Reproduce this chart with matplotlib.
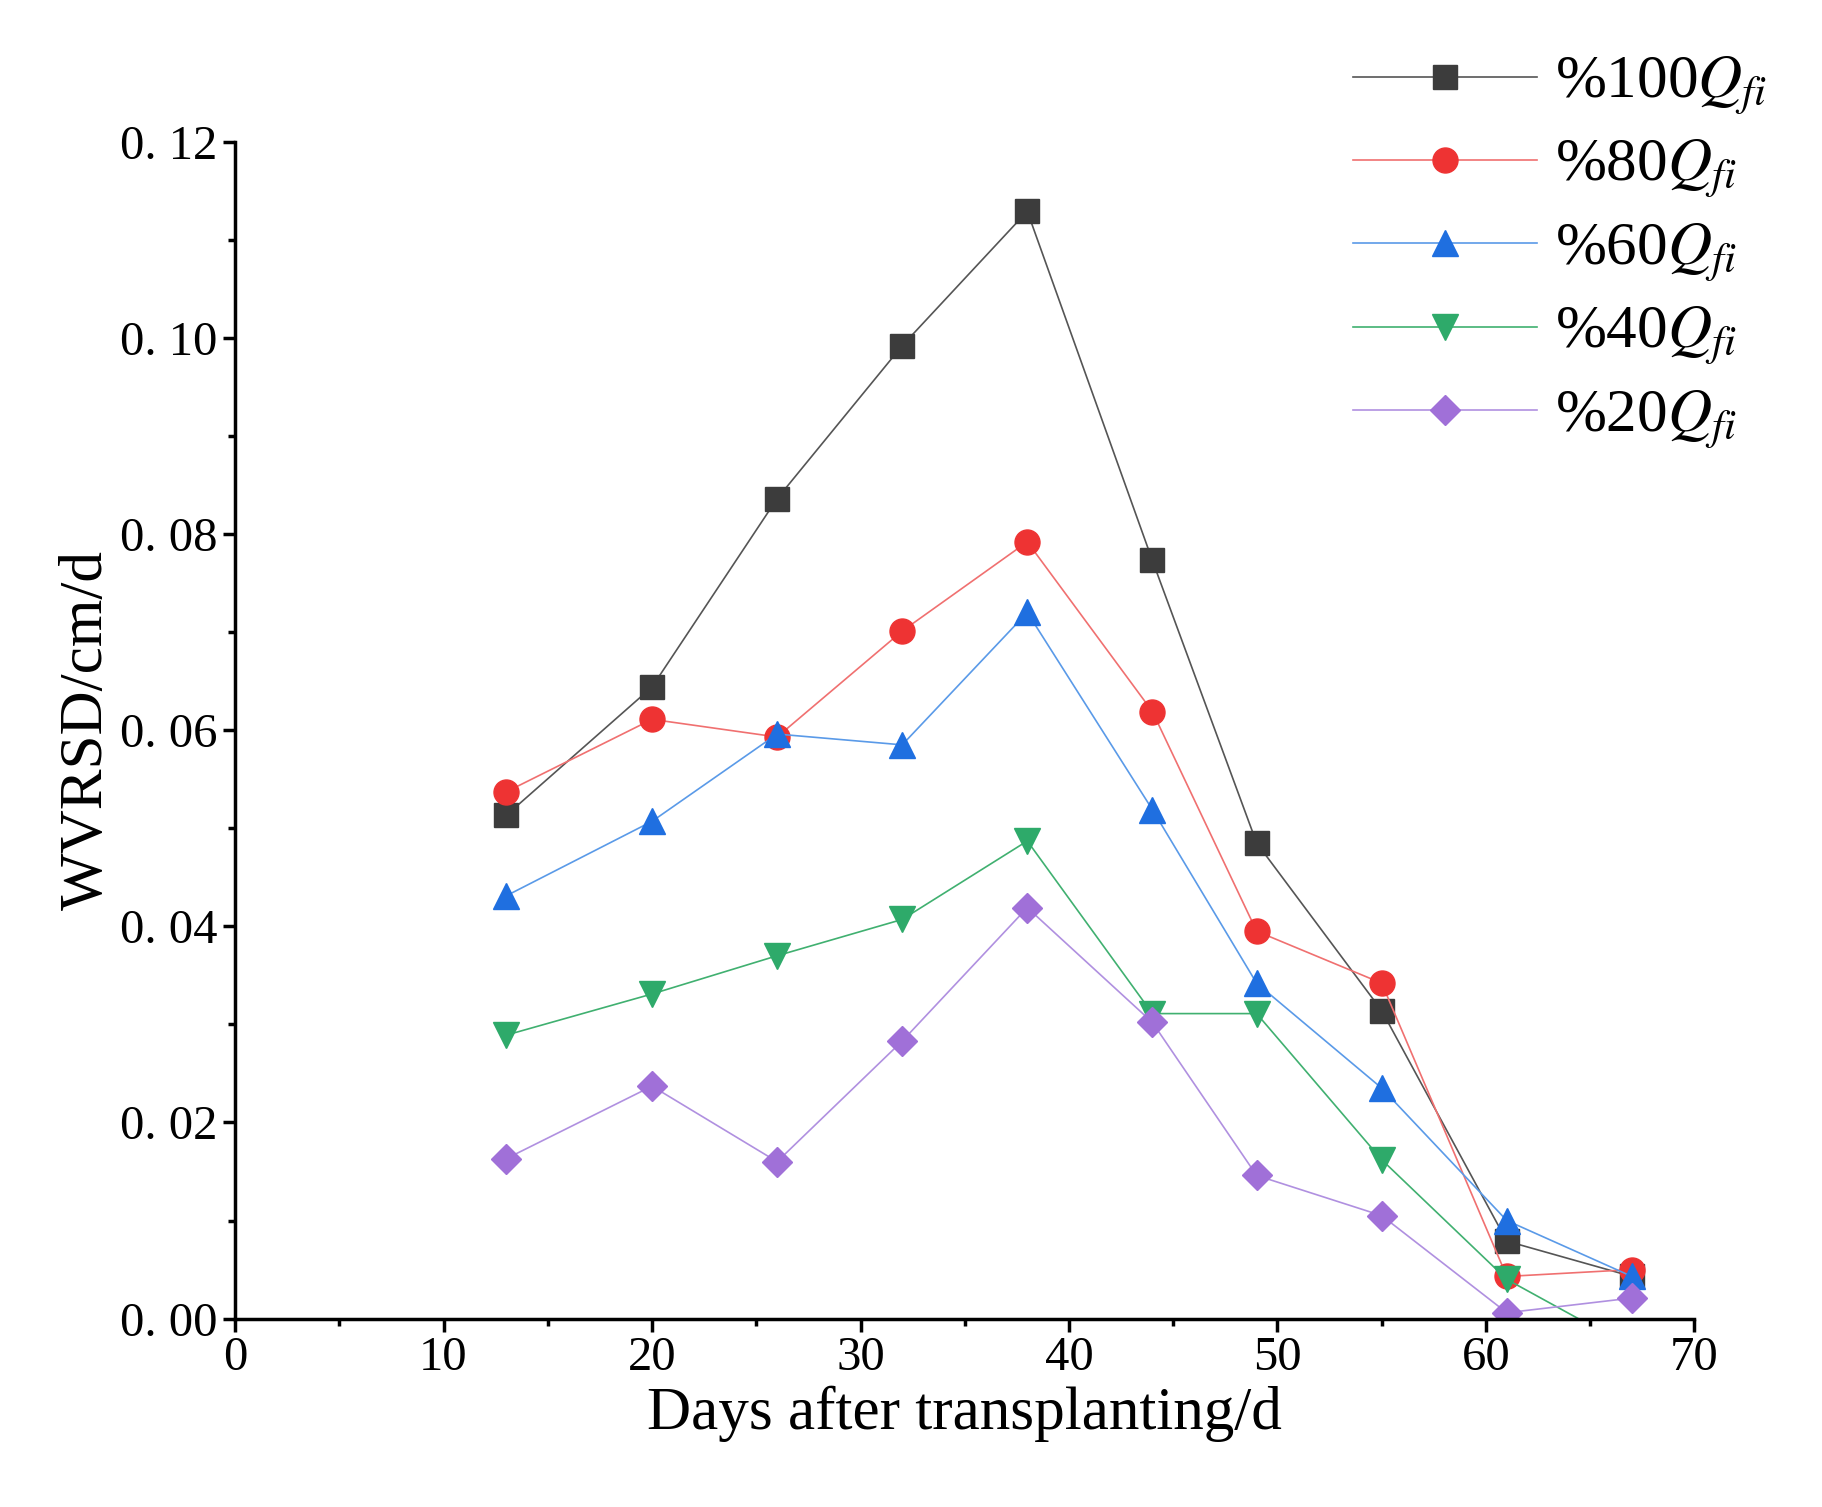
import matplotlib.pyplot as plt
import numpy as np

plt.rcParams['font.family'] = 'Liberation Serif'
plt.rcParams['mathtext.fontset'] = 'stix'

days = [13, 20, 26, 32, 38, 44, 49, 55, 61, 67]
q100 = [0.0513, 0.0644, 0.0836, 0.0992, 0.1129, 0.0773, 0.0485, 0.0314, 0.0079, 0.0043]
q80 = [0.0537, 0.0611, 0.0593, 0.0701, 0.0792, 0.0619, 0.0395, 0.0342, 0.0043, 0.0050]
q60 = [0.0431, 0.0507, 0.0596, 0.0585, 0.0720, 0.0519, 0.0342, 0.0235, 0.0100, 0.0043]
q40 = [0.0289, 0.0331, 0.0370, 0.0407, 0.0487, 0.0311, 0.0311, 0.0162, 0.0040, -0.0030]
q20 = [0.0163, 0.0237, 0.0160, 0.0283, 0.0419, 0.0302, 0.0146, 0.0105, 0.0006, 0.0021]

fig = plt.figure(figsize=(18.22, 15.07), dpi=100)
ax = fig.add_axes([0.129, 0.125, 0.801, 0.781])

series = [
    (q100, '#3c3c3c', '#555555', 's', r'%100$Q_{fi}$', 17),
    (q80, '#ee3333', '#f07070', 'o', r'%80$Q_{fi}$', 18),
    (q60, '#1f6fe0', '#5a9ae8', '^', r'%60$Q_{fi}$', 19),
    (q40, '#2eaa6a', '#40b070', 'v', r'%40$Q_{fi}$', 19),
    (q20, '#a070d8', '#b090e0', 'D', r'%20$Q_{fi}$', 15),
]
for vals, mc, lc, m, lab, ms in series:
    ax.plot(days, vals, color=lc, lw=1.2, marker=m, markersize=ms,
            markerfacecolor=mc, markeredgecolor=mc, label=lab)

ax.set_xlim(0, 70)
ax.set_ylim(0, 0.12)
ax.set_xticks(np.arange(0, 71, 10))
ax.set_xticks(np.arange(5, 70, 10), minor=True)
ax.set_yticks(np.arange(0, 0.121, 0.02))
ax.set_yticks(np.arange(0.01, 0.12, 0.02), minor=True)
ax.set_yticklabels(['0. %02d' % round(v * 100) for v in np.arange(0, 0.121, 0.02)])
for s in ['top', 'right']:
    ax.spines[s].set_visible(False)
for s in ['left', 'bottom']:
    ax.spines[s].set_linewidth(2.5)
ax.tick_params(which='major', direction='out', length=9, width=2.5, labelsize=35)
ax.tick_params(which='minor', direction='out', length=5, width=2.5)
ax.set_xlabel('Days after transplanting/d', fontsize=44)
ax.set_ylabel('WVRSD/cm/d', fontsize=44)

fig.legend(loc='upper right', bbox_to_anchor=(1.0, 1.0), frameon=False,
           fontsize=44, handlelength=3.0, handletextpad=0.3, labelspacing=0.35)

fig.savefig('out.png', dpi=100)
